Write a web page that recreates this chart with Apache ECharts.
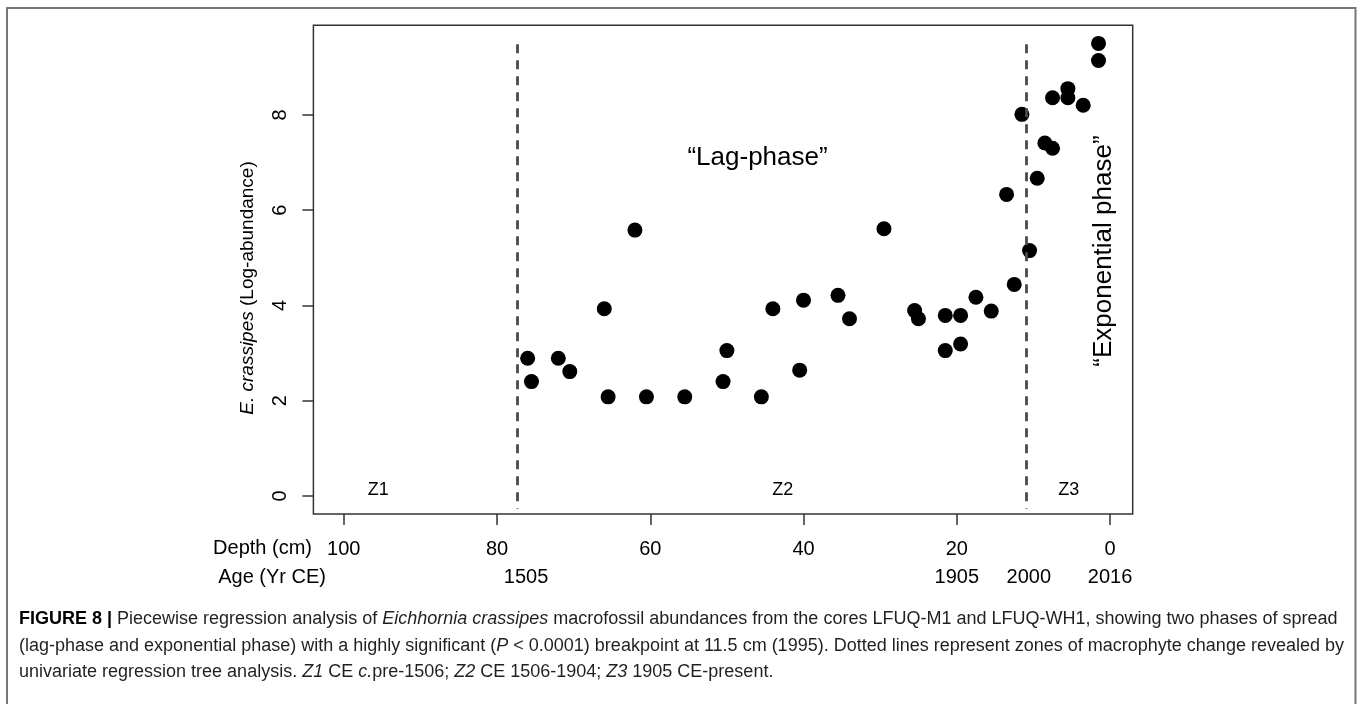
<!DOCTYPE html>
<html>
<head>
<meta charset="utf-8">
<script src="https://cdn.jsdelivr.net/npm/echarts@6/dist/echarts.min.js"></script>
<style>
  html, body { margin: 0; padding: 0; background: #fff; }
  #chart { width: 1358px; height: 704px; }
</style>
</head>
<body>
<div id="chart"></div>
<script>
// sediment depth (cm) of each sample and E. crassipes log-abundance
var depth = [76, 75.5, 72, 70.5, 66, 65.5, 62, 60.5, 55.5, 50.5, 50, 45.5, 44, 40.5, 40, 35.5, 34,
  29.5, 25.5, 25, 21.5, 21.5, 19.5, 19.5, 17.5, 15.5, 13.5, 12.5, 11.5, 10.5, 9.5, 8.5, 7.5, 7.5,
  5.5, 5.5, 3.5, 1.5, 1.5];
var logAbundance = [2.89, 2.40, 2.89, 2.61, 3.93, 2.08, 5.58, 2.08, 2.08, 2.40, 3.05, 2.08, 3.93, 2.64, 4.11, 4.21, 3.72,
  5.61, 3.89, 3.72, 3.79, 3.05, 3.79, 3.19, 4.17, 3.88, 6.33, 4.44, 8.01, 5.15, 6.67, 7.41, 7.30, 8.36,
  8.55, 8.36, 8.20, 9.50, 9.14];

// zone boundaries (depth) and zone names
var zoneBreaks = [77.3, 10.9];
var zoneNames = ["Z1", "Z2", "Z3"];
var zoneNameDepth = [95.5, 42.7, 5.4];

// axis ticks
var depthTicks = [100, 80, 60, 40, 20, 0];
var ageTickDepth = [76.2, 20, 10.6, 0];
var ageTickLabels = ["1505", "1905", "2000", "2016"];
var yTicks = [0, 2, 4, 6, 8];

var FONT = "'Liberation Sans', Arial, sans-serif";

let points = depth.map((d, i) => [d, logAbundance[i]]);

let zoneLines = zoneBreaks.map(z => [{ coord: [z, 9.48] }, { coord: [z, -0.27] }]);

let zoneLabels = zoneNames.map((n, i) => ({ name: n, value: [zoneNameDepth[i], 0.13] }));

let myEcharts = echarts.init(document.getElementById("chart"));
let option = {
  animation: false,
  textStyle: { fontFamily: FONT },
  grid: {
    left: 313.4,
    right: 225.3,
    top: 25.3,
    bottom: 190,
    show: true,
    borderColor: "#333",
    borderWidth: 1.5,
    backgroundColor: "transparent"
  },
  xAxis: [
    {
      type: "value",
      inverse: true,
      min: -2.96,
      max: 103.96,
      axisLine: { show: false, onZero: false },
      splitLine: { show: false },
      axisTick: { show: true, length: 11, customValues: depthTicks, lineStyle: { color: "#333", width: 1.5 } },
      axisLabel: { customValues: depthTicks, fontSize: 20, color: "#000", margin: 25, fontFamily: FONT }
    },
    {
      type: "value",
      inverse: true,
      min: -2.96,
      max: 103.96,
      position: "bottom",
      offset: 28,
      axisLine: { show: false, onZero: false },
      splitLine: { show: false },
      axisTick: { show: false },
      axisLabel: {
        customValues: ageTickDepth,
        fontSize: 20,
        color: "#000",
        margin: 25,
        fontFamily: FONT,
        formatter: function (v) {
          let best = 0;
          for (let i = 1; i < ageTickDepth.length; i++) {
            if (Math.abs(ageTickDepth[i] - v) < Math.abs(ageTickDepth[best] - v)) best = i;
          }
          return ageTickLabels[best];
        }
      }
    }
  ],
  yAxis: {
    type: "value",
    min: -0.38,
    max: 9.88,
    axisLine: { show: false, onZero: false },
    splitLine: { show: false },
    axisTick: { show: true, length: 11, customValues: yTicks, lineStyle: { color: "#333", width: 1.5 } },
    axisLabel: { customValues: yTicks, rotate: 90, fontSize: 20, color: "#000", margin: 23, fontFamily: FONT }
  },
  series: [
    {
      type: "scatter",
      data: points,
      symbol: "circle",
      symbolSize: 15,
      itemStyle: { color: "#000", opacity: 1 },
      markLine: {
        silent: true,
        symbol: "none",
        label: { show: false },
        lineStyle: { color: "#4a4a4a", width: 2.8, type: [9, 7], opacity: 1 },
        data: zoneLines
      }
    },
    {
      type: "scatter",
      data: zoneLabels,
      symbolSize: 0,
      silent: true,
      itemStyle: { opacity: 1 },
      label: { show: true, position: "inside", formatter: "{b}", fontSize: 18, color: "#000", fontFamily: FONT }
    },
    {
      type: "scatter",
      symbolSize: 0,
      silent: true,
      itemStyle: { opacity: 1 },
      data: [
        { name: "\u201cLag-phase\u201d", value: [46.0, 7.09] },
        { name: "\u201cExponential phase\u201d", value: [0.86, 5.14], label: { rotate: 90 } }
      ],
      label: { show: true, position: "inside", formatter: "{b}", fontSize: 26, color: "#000", fontFamily: FONT }
    }
  ],
  graphic: [
    {
      type: "rect",
      shape: { x: 7, y: 8, width: 1348.5, height: 720 },
      style: { fill: "none", stroke: "#777", lineWidth: 2 },
      silent: true
    },
    {
      type: "text",
      x: 248,
      y: 288,
      rotation: Math.PI / 2,
      style: {
        text: "{i|E. crassipes} (Log-abundance)",
        font: "19px " + FONT,
        fill: "#000",
        align: "center",
        verticalAlign: "middle",
        rich: { i: { fontStyle: "italic", fontSize: 19, fontFamily: FONT, fill: "#000" } }
      }
    },
    {
      type: "text",
      x: 312,
      y: 548.7,
      style: { text: "Depth (cm)", font: "20px " + FONT, fill: "#000", align: "right", verticalAlign: "middle" }
    },
    {
      type: "text",
      x: 326,
      y: 577,
      style: { text: "Age (Yr CE)", font: "20px " + FONT, fill: "#000", align: "right", verticalAlign: "middle" }
    },
    {
      type: "text",
      x: 19,
      y: 619,
      style: {
        text: "{b|FIGURE 8 |} Piecewise regression analysis of {i|Eichhornia crassipes} macrofossil abundances from the cores LFUQ-M1 and LFUQ-WH1, showing two phases of spread",
        font: "18px " + FONT,
        fill: "#231f20",
        verticalAlign: "middle",
        rich: {
          b: { fontWeight: "bold", fontSize: 18, fontFamily: FONT, fill: "#000" },
          i: { fontStyle: "italic", fontSize: 18, fontFamily: FONT, fill: "#231f20" }
        }
      }
    },
    {
      type: "text",
      x: 19,
      y: 646,
      style: {
        text: "(lag-phase and exponential phase) with a highly significant ({i|P} < 0.0001) breakpoint at 11.5 cm (1995). Dotted lines represent zones of macrophyte change revealed by",
        font: "18px " + FONT,
        fill: "#231f20",
        verticalAlign: "middle",
        rich: { i: { fontStyle: "italic", fontSize: 18, fontFamily: FONT, fill: "#231f20" } }
      }
    },
    {
      type: "text",
      x: 19,
      y: 672,
      style: {
        text: "univariate regression tree analysis. {i|Z1} CE {i|c.}pre-1506; {i|Z2} CE 1506-1904; {i|Z3} 1905 CE-present.",
        font: "18px " + FONT,
        fill: "#231f20",
        verticalAlign: "middle",
        rich: { i: { fontStyle: "italic", fontSize: 18, fontFamily: FONT, fill: "#231f20" } }
      }
    }
  ]
};
myEcharts.setOption(option);
</script>
</body>
</html>
